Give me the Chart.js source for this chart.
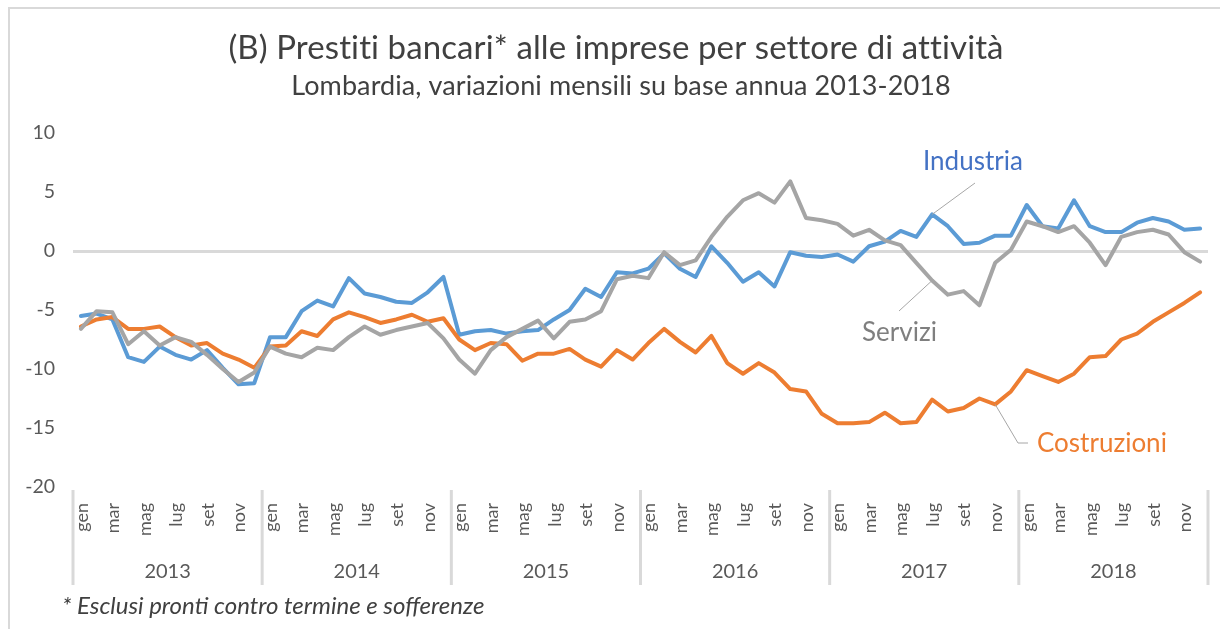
<!DOCTYPE html>
<html lang="it">
<head>
<meta charset="utf-8">
<title>Prestiti bancari alle imprese per settore di attività</title>
<script src="https://cdn.jsdelivr.net/npm/chart.js@4/dist/chart.umd.min.js"></script>
<style>
  html, body { margin: 0; padding: 0; background: #ffffff; }
  canvas { display: block; }
</style>
</head>
<body>
<canvas id="chart" width="1220" height="629"></canvas>
<script>
// Data (variazioni % su base annua)
const years = ['2013', '2014', '2015', '2016', '2017', '2018'];
const monthNames = ['gen', 'feb', 'mar', 'apr', 'mag', 'giu', 'lug', 'ago', 'set', 'ott', 'nov', 'dic'];
const yTicks = [-20, -15, -10, -5, 0, 5, 10];

const industria = [
  -5.5, -5.3, -5.8, -9.0, -9.4, -8.1, -8.8, -9.2, -8.4, -9.9, -11.3, -11.2,
  -7.3, -7.3, -5.1, -4.2, -4.7, -2.3, -3.6, -3.9, -4.3, -4.4, -3.5, -2.2,
  -7.1, -6.8, -6.7, -7.0, -6.8, -6.7, -5.8, -5.0, -3.2, -3.9, -1.8, -1.9,
  -1.5, -0.2, -1.5, -2.2, 0.4, -1.0, -2.6, -1.8, -3.0, -0.1, -0.4, -0.5,
  -0.3, -0.9, 0.4, 0.8, 1.7, 1.2, 3.1, 2.1, 0.6, 0.7, 1.3, 1.3,
  3.9, 2.1, 1.9, 4.3, 2.1, 1.6, 1.6, 2.4, 2.8, 2.5, 1.8, 1.9,
];
const costruzioni = [
  -6.4, -5.8, -5.6, -6.6, -6.6, -6.4, -7.3, -8.0, -7.8, -8.7, -9.2, -9.9,
  -8.1, -8.0, -6.8, -7.2, -5.8, -5.2, -5.6, -6.1, -5.8, -5.4, -6.0, -5.7,
  -7.5, -8.4, -7.8, -7.9, -9.3, -8.7, -8.7, -8.3, -9.2, -9.8, -8.4, -9.2,
  -7.8, -6.6, -7.7, -8.6, -7.2, -9.5, -10.4, -9.5, -10.3, -11.7, -11.9, -13.8,
  -14.6, -14.6, -14.5, -13.7, -14.6, -14.5, -12.6, -13.6, -13.3, -12.5, -13.0, -11.9,
  -10.1, -10.6, -11.1, -10.4, -9.0, -8.9, -7.5, -7.0, -6.0, -5.2, -4.4, -3.5,
];
const servizi = [
  -6.6, -5.1, -5.2, -7.9, -6.8, -8.0, -7.3, -7.7, -8.8, -10.0, -11.1, -10.3,
  -8.1, -8.7, -9.0, -8.2, -8.4, -7.3, -6.4, -7.1, -6.7, -6.4, -6.1, -7.4,
  -9.2, -10.4, -8.4, -7.3, -6.6, -5.9, -7.4, -6.0, -5.8, -5.1, -2.4, -2.1,
  -2.3, -0.1, -1.2, -0.8, 1.2, 2.9, 4.3, 4.9, 4.1, 5.9, 2.8, 2.6,
  2.3, 1.3, 1.8, 0.9, 0.5, -1.0, -2.5, -3.7, -3.4, -4.6, -1.0, 0.1,
  2.5, 2.1, 1.6, 2.1, 0.7, -1.2, 1.2, 1.6, 1.8, 1.4, -0.1, -0.9,
];

const labels = years.flatMap(year => monthNames.map(month => [month, year]));

const FONT = 'Lato, "Open Sans", sans-serif';
const TEXT = '#595959';
const LINE_GREY = '#d9d9d9';
const COLORS = { industria: '#5b9bd5', costruzioni: '#ed7d31', servizi: '#a5a5a5' };

/** Titles, month/year axis, footnote and series call-outs drawn on the canvas. */
const decorations = {
  id: 'decorations',
  afterDraw(chart) {
    const { ctx, scales: { x, y } } = chart;
    const px = i => x.getPixelForValue(i);
    ctx.save();

    // outer frame
    ctx.strokeStyle = LINE_GREY;
    ctx.lineWidth = 2;
    ctx.strokeRect(9, 8, 1230, 650);

    // titles (tiny letter spacing keeps Lato from using the "tt"/"ti" ligatures)
    ctx.fillStyle = '#404040';
    ctx.textAlign = 'center';
    ctx.textBaseline = 'middle';
    ctx.letterSpacing = '0.1px';
    ctx.font = `33px ${FONT}`;
    ctx.fillText('(B) Prestiti bancari* alle imprese per settore di attività', 616, 48);
    ctx.font = `27px ${FONT}`;
    ctx.fillText('Lombardia, variazioni mensili su base annua 2013-2018', 621, 86);
    ctx.letterSpacing = '0px';

    // month labels (every other month, rotated)
    ctx.fillStyle = TEXT;
    ctx.font = `18px ${FONT}`;
    labels.forEach(([month], i) => {
      if (i % 2) return;
      ctx.save();
      ctx.translate(px(i) + 1, 503);
      ctx.rotate(-Math.PI / 2);
      ctx.textAlign = 'right';
      ctx.textBaseline = 'middle';
      ctx.fillText(month, 0, 0);
      ctx.restore();
    });

    // year labels and separators
    const yearWidth = x.width / years.length;
    ctx.font = `20px ${FONT}`;
    ctx.textAlign = 'center';
    years.forEach((year, k) => {
      ctx.fillText(year, x.left + yearWidth * (k + 0.5), 572);
    });
    ctx.strokeStyle = LINE_GREY;
    ctx.lineWidth = 3;
    for (let k = 0; k <= years.length; k++) {
      const sx = x.left + yearWidth * k;
      ctx.beginPath();
      ctx.moveTo(sx, 490);
      ctx.lineTo(sx, 585);
      ctx.stroke();
    }

    // footnote
    ctx.font = `italic 24px ${FONT}`;
    ctx.textAlign = 'left';
    ctx.fillStyle = '#404040';
    ctx.fillText('* Esclusi pronti contro termine e sofferenze', 62, 606);

    // call-outs with leader lines anchored on data points
    ctx.strokeStyle = '#a6a6a6';
    ctx.lineWidth = 1;
    const leader = pts => {
      ctx.beginPath();
      ctx.moveTo(pts[0][0], pts[0][1]);
      pts.slice(1).forEach(([lx, ly]) => ctx.lineTo(lx, ly));
      ctx.stroke();
    };
    leader([[px(54), y.getPixelForValue(industria[54])], [975, 183]]);
    leader([[px(54), y.getPixelForValue(servizi[54])], [899, 311]]);
    leader([[px(58), y.getPixelForValue(costruzioni[58])], [1018, 443], [1028, 443]]);

    ctx.font = `26px ${FONT}`;
    ctx.textAlign = 'left';
    ctx.fillStyle = '#4472c4';
    ctx.fillText('Industria', 923, 162);
    ctx.fillStyle = '#7f7f7f';
    ctx.fillText('Servizi', 862, 333);
    ctx.fillStyle = COLORS.costruzioni;
    ctx.fillText('Costruzioni', 1037, 444);

    ctx.restore();
  },
};

const lineStyle = color => ({
  borderColor: color,
  backgroundColor: color,
  borderWidth: 4,
  pointRadius: 0,
  tension: 0,
  borderJoinStyle: 'round',
  borderCapStyle: 'round',
});

new Chart(document.getElementById('chart'), {
  type: 'line',
  data: {
    labels,
    datasets: [
      { label: 'Industria', data: industria, order: 3, ...lineStyle(COLORS.industria) },
      { label: 'Costruzioni', data: costruzioni, order: 2, ...lineStyle(COLORS.costruzioni) },
      { label: 'Servizi', data: servizi, order: 1, ...lineStyle(COLORS.servizi) },
    ],
  },
  options: {
    responsive: false,
    animation: false,
    layout: { padding: { top: 133, right: 12, bottom: 0, left: 0 } },
    scales: {
      x: {
        type: 'category',
        offset: true,
        grid: { display: false },
        border: { display: false },
        ticks: { display: false },
        afterFit: scale => { scale.height = 142; },
      },
      y: {
        min: -20,
        max: 10,
        afterBuildTicks: scale => { scale.ticks = yTicks.map(value => ({ value })); },
        grid: {
          drawTicks: false,
          color: ctx => (ctx.tick && ctx.tick.value === 0 ? LINE_GREY : 'rgba(0,0,0,0)'),
          lineWidth: 3,
        },
        border: { display: false },
        ticks: { padding: 18, color: TEXT, font: { family: FONT, size: 19.5 } },
        afterFit: scale => { scale.width = 73; },
      },
    },
    plugins: {
      legend: { display: false },
      tooltip: { enabled: false },
    },
  },
  plugins: [decorations],
});
</script>
</body>
</html>
